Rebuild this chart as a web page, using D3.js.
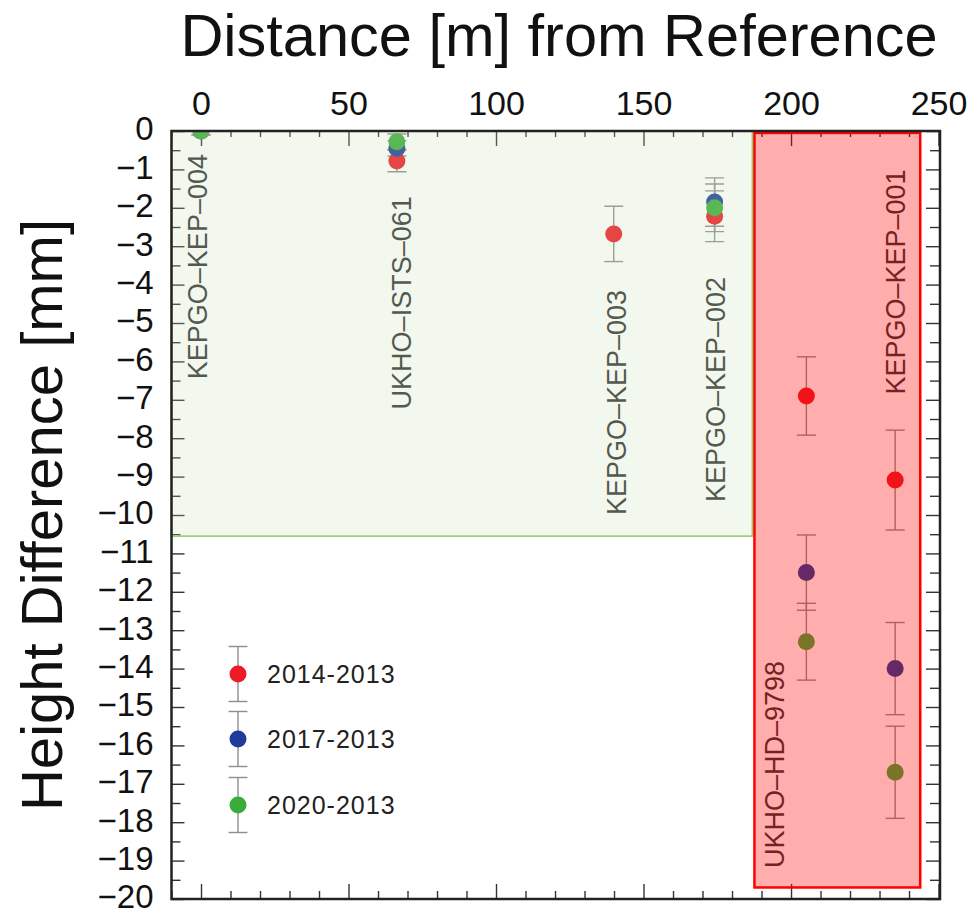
<!DOCTYPE html>
<html><head><meta charset="utf-8">
<script src="https://cdn.jsdelivr.net/npm/d3@7"></script>
<style>
html,body{margin:0;padding:0;background:#fff;}
text{font-family:"Liberation Sans",Arial,Helvetica,sans-serif;}
</style></head>
<body>
<svg id="chart" width="979" height="914"></svg>
<script>
// ---- data ----
const stations = ["KEPGO–KEP–004","UKHO–ISTS–061","KEPGO–KEP–003","KEPGO–KEP–002","UKHO–HD–9798","KEPGO–KEP–001"];
const distances = [0, 66.4, 139.9, 174.1, 205.2, 235.3];
const labelX = [-1.3, 67.8, 140.9, 174.4, 194.4, 235.3];
const labelTop = [-0.6, -1.7, -4.14, -3.8, -13.8, -1.0];
const seriesNames = ["2014-2013","2017-2013","2020-2013"];
const d2014 = [0, -0.78, -2.68, -2.22, -6.9, -9.09];
const e2014 = [0.1, 0.28, 0.72, 0.66, 1.02, 1.3];
const d2017 = [0, -0.45, null, -1.85, -11.5, -14.0];
const e2017 = [0.1, 0.2, null, 0.63, 0.98, 1.2];
const d2020 = [0, -0.28, null, -2.0, -13.3, -16.7];
const e2020 = [0.1, 0.2, null, 0.62, 1.0, 1.2];
const xTicks = [0, 50, 100, 150, 200, 250];
const yTicks = d3.range(-20, 1, 1);
const greenZone = {x0: -10, x1: 186.9, y0: 0, y1: -10.55};
const redZone = {x0: 187.6, x1: 243.8, y0: -0.05, y1: -19.7};

const colors = ["#ec1c24", "#1f3c9a", "#3aac3a"];
const series = [
  {name: seriesNames[0], v: d2014, e: e2014, c: colors[0]},
  {name: seriesNames[1], v: d2017, e: e2017, c: colors[1]},
  {name: seriesNames[2], v: d2020, e: e2020, c: colors[2]}
];

const svg = d3.select("#chart");
const L = 171.5, R = 940, T = 131, B = 899;
const x = d3.scaleLinear().domain([-10, 250.5]).range([L, R]);
const y = d3.scaleLinear().domain([-20, 0]).range([B, T]);

svg.append("defs").append("clipPath").attr("id","clip")
  .append("rect").attr("x",L).attr("y",T).attr("width",R-L).attr("height",B-T);

const tickColor = "#333";
function styleAxis(g){
  g.select(".domain").remove();
  g.selectAll(".tick line").attr("stroke", tickColor).attr("stroke-width", 1.4);
}
const fmt = d => d === 0 ? "0" : "\u2212" + Math.abs(d);

// top axis (with labels)
svg.append("g").attr("transform",`translate(0,${T})`)
  .call(d3.axisTop(x).tickValues(xTicks).tickSize(-15).tickPadding(16).tickFormat(d3.format("d")))
  .call(styleAxis)
  .call(g => g.selectAll("text").attr("font-size", 34).attr("fill","#111")
        .style("font-family","'Liberation Sans',Arial,sans-serif"));
svg.append("g").attr("transform",`translate(0,${T})`)
  .call(d3.axisTop(x).tickValues(d3.range(-10, 251, 10).filter(v => v % 50 !== 0)).tickSize(-6).tickFormat(""))
  .call(styleAxis);
// bottom axis
svg.append("g").attr("transform",`translate(0,${B})`)
  .call(d3.axisBottom(x).tickValues(xTicks).tickSize(-15).tickFormat(""))
  .call(styleAxis);
svg.append("g").attr("transform",`translate(0,${B})`)
  .call(d3.axisBottom(x).tickValues(d3.range(-10, 251, 10).filter(v => v % 50 !== 0)).tickSize(-8).tickFormat(""))
  .call(styleAxis);
// left axis
svg.append("g").attr("transform",`translate(${L},0)`)
  .call(d3.axisLeft(y).tickValues(yTicks).tickSize(-13).tickPadding(18).tickFormat(fmt))
  .call(styleAxis)
  .call(g => g.selectAll("text").attr("font-size", 33).attr("fill","#111").attr("dy","0.27em")
        .style("font-family","'Liberation Sans',Arial,sans-serif"));
svg.append("g").attr("transform",`translate(${L},0)`)
  .call(d3.axisLeft(y).tickValues(d3.range(-19.5, 0, 1)).tickSize(-9).tickFormat(""))
  .call(styleAxis);
// right axis
svg.append("g").attr("transform",`translate(${R},0)`)
  .call(d3.axisRight(y).tickValues(yTicks).tickSize(-14).tickFormat(""))
  .call(styleAxis);
svg.append("g").attr("transform",`translate(${R},0)`)
  .call(d3.axisRight(y).tickValues(d3.range(-19.5, 0, 1)).tickSize(-10).tickFormat(""))
  .call(styleAxis);

// data marks
const plot = svg.append("g").attr("clip-path","url(#clip)");
const errColor = "#8e8e8e", cap = 9.5;
series.forEach(s => {
  const pts = distances.map((d,i) => ({d, v: s.v[i], e: s.e[i]})).filter(p => p.v !== null);
  const g = plot.append("g");
  pts.forEach(p => {
    const cx = x(p.d);
    g.append("line").attr("x1",cx).attr("x2",cx).attr("y1",y(p.v+p.e)).attr("y2",y(p.v-p.e))
      .attr("stroke",errColor).attr("stroke-width",1.4);
    [p.v+p.e, p.v-p.e].forEach(yy => g.append("line").attr("x1",cx-cap).attr("x2",cx+cap)
      .attr("y1",y(yy)).attr("y2",y(yy)).attr("stroke",errColor).attr("stroke-width",1.4));
  });
});
series.forEach(s => {
  const pts = distances.map((d,i) => ({d, v: s.v[i]})).filter(p => p.v !== null);
  plot.append("g").selectAll("circle").data(pts).join("circle")
    .attr("cx", p => x(p.d)).attr("cy", p => y(p.v)).attr("r", 8.5).attr("fill", s.c);
});

// station labels
svg.append("g").selectAll("text").data(stations).join("text")
  .attr("transform", (s,i) => `translate(${x(labelX[i])},${y(labelTop[i])}) rotate(-90)`)
  .attr("text-anchor","end").attr("dy","0.36em")
  .attr("font-size", 27).attr("fill","#333").text(s => s);

// overlays
svg.append("rect")
  .attr("x", x(greenZone.x0)).attr("y", y(greenZone.y0))
  .attr("width", x(greenZone.x1) - x(greenZone.x0)).attr("height", y(greenZone.y1) - y(greenZone.y0))
  .attr("fill","rgba(201,224,180,0.225)").attr("stroke","#8fd06a").attr("stroke-width",1.6);
svg.append("rect")
  .attr("x", x(redZone.x0)).attr("y", y(redZone.y0))
  .attr("width", x(redZone.x1) - x(redZone.x0)).attr("height", y(redZone.y1) - y(redZone.y0))
  .attr("fill","rgba(255,0,0,0.32)").attr("stroke","#ff0000").attr("stroke-width",2.5);

// legend
const legX = 238, legY = [674, 739, 805], legE = 27.5;
const leg = svg.append("g");
series.forEach((s,i) => {
  const cy = legY[i];
  leg.append("line").attr("x1",legX).attr("x2",legX).attr("y1",cy-legE).attr("y2",cy+legE)
    .attr("stroke",errColor).attr("stroke-width",1.4);
  [cy-legE, cy+legE].forEach(yy => leg.append("line").attr("x1",legX-cap).attr("x2",legX+cap)
    .attr("y1",yy).attr("y2",yy).attr("stroke",errColor).attr("stroke-width",1.4));
  leg.append("circle").attr("cx",legX).attr("cy",cy).attr("r",8.5).attr("fill",s.c);
  leg.append("text").attr("x",267).attr("y",cy).attr("dy","0.36em")
    .attr("font-size",25).attr("fill","#222").attr("letter-spacing",1).text(s.name);
});

// frame
svg.append("rect").attr("x",L).attr("y",T).attr("width",R-L).attr("height",B-T)
  .attr("fill","none").attr("stroke","#222").attr("stroke-width",2.5);

// titles
svg.append("text").attr("x",559).attr("y",56).attr("text-anchor","middle")
  .attr("font-size",59.5).attr("fill","#111").text("Distance [m] from Reference");
svg.append("text").attr("transform",`translate(62,${(T+B)/2}) rotate(-90)`).attr("text-anchor","middle")
  .attr("font-size",58).attr("fill","#111").text("Height Difference [mm]");
</script>
</body></html>
